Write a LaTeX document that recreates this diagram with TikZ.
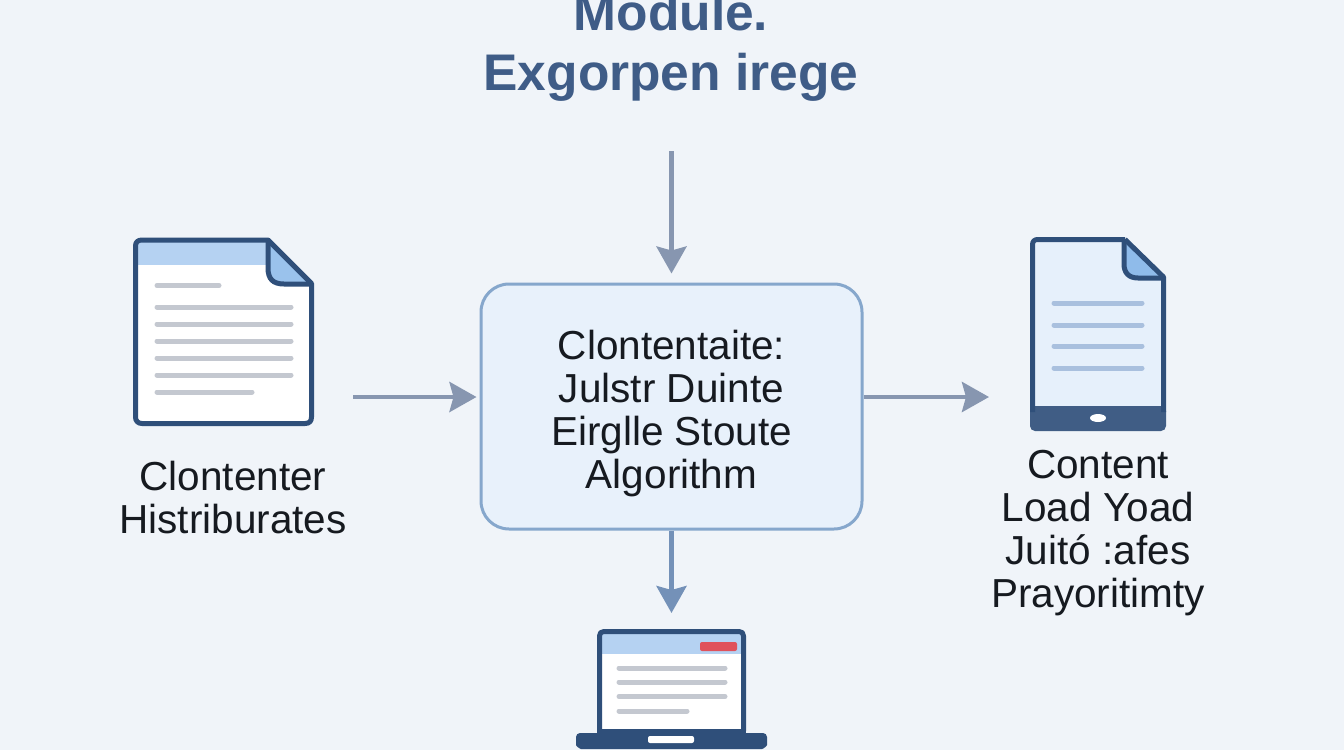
\documentclass[tikz,border=0pt]{standalone}
\usepackage{fontspec}
\setmainfont{Liberation Sans}
\usetikzlibrary{arrows.meta}
\definecolor{bgc}{HTML}{F0F4F9}
\definecolor{navy}{HTML}{2F4F7A}
\definecolor{titlec}{HTML}{3F5C87}
\definecolor{arrowc}{HTML}{8796B0}
\definecolor{arrowb}{HTML}{7491B8}
\definecolor{boxline}{HTML}{86A7CC}
\definecolor{boxfill}{HTML}{E8F1FB}
\definecolor{lightb}{HTML}{B5D2F2}
\definecolor{foldb}{HTML}{8FBBEA}
\definecolor{greyl}{HTML}{C4C8D0}
\definecolor{bluel}{HTML}{A9C0DE}
\definecolor{redbar}{HTML}{E0515B}
\definecolor{screenb}{HTML}{E6F0FB}
\definecolor{inkc}{HTML}{161A20}
\tikzset{
  x=1pt,y=-1pt,
  conn/.style={line width=4.5pt,color=arrowc,-{Stealth[length=27pt,width=30pt,inset=4pt]}},
  connb/.style={conn,color=arrowb},
  label text/.style={font=\fontsize{40.5}{43}\selectfont,align=center,text=inkc,inner sep=0pt},
  icon area/.style={inner sep=0pt,outer sep=0pt,draw=none},
  outline/.style={line width=5pt,draw=navy,line join=round},
  textline/.style={line width=5pt,draw=greyl,line cap=round},
  blueline/.style={line width=5pt,draw=bluel,line cap=round},
}
\begin{document}
\begin{tikzpicture}
\useasboundingbox (0,0) rectangle (1344,750);
\fill[bgc] (0,0) rectangle (1344,750);

% title
\node[font=\bfseries\fontsize{51.5}{60}\selectfont,align=center,text=titlec,inner sep=0pt] (title) at (671,47.5) {Module.\\Exgorpen irege};

% centre box
\node[draw=boxline,fill=boxfill,line width=3pt,rounded corners=28pt,minimum width=381pt,minimum height=245pt,inner sep=0pt] (box) at (671.5,406.5) {};
\node[label text] (boxtext) at (671.5,414) {Clontentaite:\\Julstr Duinte\\Eirglle Stoute\\Algorithm};

% invisible areas of the icons, for connectors
\node[icon area,minimum width=180pt,minimum height=188pt] (doc) at (224,331) {};
\node[icon area,minimum width=136pt,minimum height=193pt] (tablet) at (1098,333.5) {};
\node[icon area,minimum width=191pt,minimum height=120pt] (laptop) at (671.5,689) {};
\coordinate (rowy) at (0,397);
\coordinate (topstart) at (671.5,151);

% document icon
\fill[white] (139,240) -- (268,240) -- (311,283) -- (311,419) arc (0:90:4) -- (140,423.5) arc (90:180:4) -- (135.5,244) arc (180:270:4) -- cycle;
\fill[lightb] (137,242) rectangle (268,265);
\fill[foldb!70!lightb] (268,240) -- (311,284) -- (282,284) .. controls (272,284) and (268,278) .. (268,270) -- cycle;
\draw[outline] (268,240) -- (311.5,283.5) -- (311.5,417) .. controls (311.5,421) and (309.5,423.5) .. (305,423.5) -- (142,423.5) .. controls (138,423.5) and (135.5,421) .. (135.5,417) -- (135.5,246) .. controls (135.5,242) and (138,240) .. (142,240) -- cycle;
\draw[outline] (268,240) -- (268,268) .. controls (268,279) and (273,284) .. (284,284) -- (311.5,284);
\draw[textline] (157,285.5) -- (219,285.5);
\foreach \yy in {307,324,341,358,375} {\draw[textline] (157,\yy) -- (291,\yy);}
\draw[textline] (157,392) -- (252,392);

% tablet icon
\fill[screenb] (1034,240) -- (1125,240) -- (1163.5,278) -- (1163.5,410) -- (1032.5,410) -- (1032.5,244) -- cycle;
\fill[foldb] (1124,240) -- (1163,278) -- (1135,278) .. controls (1127,278) and (1124,272) .. (1124,266) -- cycle;
\fill[navy!92!white,rounded corners=5pt] (1030,406) -- (1166,406) -- (1166,431) -- (1030,431) -- cycle;
\draw[outline] (1125,239.5) -- (1163.5,277) -- (1163.5,412) (1032.5,412) -- (1032.5,245) .. controls (1032.5,241) and (1034.5,239.5) .. (1038,239.5) -- (1125,239.5);
\draw[outline] (1124,240) -- (1124,264) .. controls (1124,273) and (1129,278) .. (1138,278) -- (1163.5,278);
\fill[white] (1098,418) ellipse [x radius=8,y radius=4];
\foreach \yy in {303,325,346,368} {\draw[blueline] (1054,\yy) -- (1142,\yy);}

% laptop icon
\fill[white] (600,632) rectangle (743.5,731);
\fill[lightb] (601,634) rectangle (742,654);
\draw[outline] (599.5,731) -- (599.5,636) .. controls (599.5,633) and (601,631.5) .. (604,631.5) -- (739,631.5) .. controls (742,631.5) and (743.5,633) .. (743.5,636) -- (743.5,731);
\fill[redbar,rounded corners=2pt] (700,642) rectangle (737,651);
\fill[navy,rounded corners=4pt] (576,733) -- (767,733) -- (767,741) .. controls (767,746) and (763,749) .. (758,749) -- (585,749) .. controls (580,749) and (576,746) .. (576,741) -- cycle;
\fill[navy] (597,729) rectangle (746,734);
\fill[white,rounded corners=2pt] (648,736) rectangle (694,743);
\draw[textline] (619,668) -- (725,668);
\draw[textline] (619,682) -- (725,682);
\draw[textline] (619,696.5) -- (725,696.5);
\draw[textline] (619,711) -- (687,711);

% labels
\node[label text] (lefttext) at (233,497.5) {Clontenter\\Histriburates};
\node[label text] (righttext) at (1098,533.5) {Content\\Load Yoad\\Juitó :afes\\Prayoritimty};

% connectors
\draw[conn,shorten >=9pt] (topstart) -- (box.north);
\draw[conn,shorten <=39pt,shorten >=3pt] (doc.east |- rowy) -- (box.west |- rowy);
\draw[conn,shorten >=41pt] (box.east |- rowy) -- (tablet.west |- rowy);
\draw[connb,shorten >=16pt] (box.south) -- (laptop.north);
\end{tikzpicture}
\end{document}
